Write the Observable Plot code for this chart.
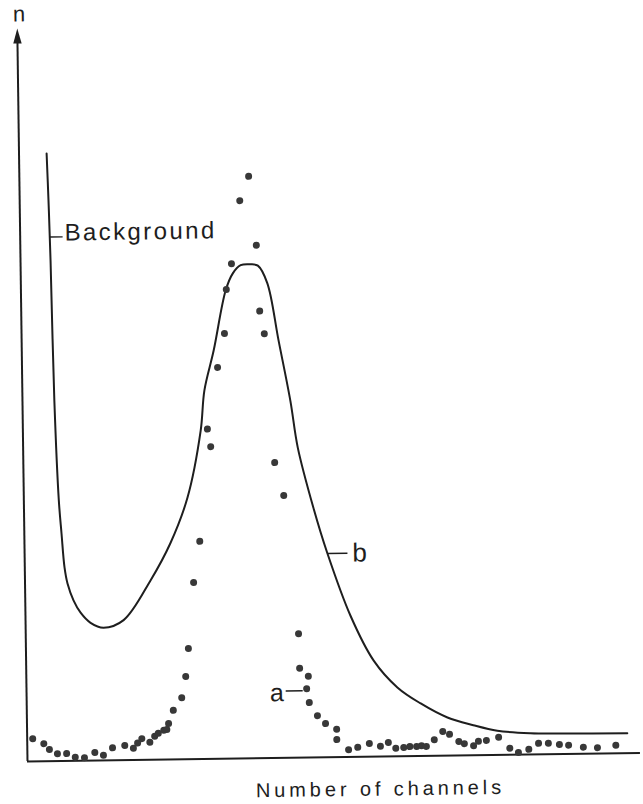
<!DOCTYPE html>
<html>
<head>
<meta charset="utf-8">
<script src="https://cdn.jsdelivr.net/npm/d3@7"></script>
<script src="https://cdn.jsdelivr.net/npm/@observablehq/plot@0.6"></script>
<style>
  html, body { margin: 0; padding: 0; background: #fff; }
  #chart { width: 643px; height: 804px; overflow: hidden; }
  /* the printed figure sits slightly askew on the page */
  #chart svg { display: block; transform: rotate(-0.8deg); transform-origin: 27px 761px; }
</style>
</head>
<body>
<div id="chart"></div>
<script>
// Measured spectrum (a): counts per channel
const dotChannel = [
  0.9, 2.7, 3.6, 4.9, 6.4, 7.8, 9.3, 11.0, 12.4, 13.9, 15.9, 17.3, 18.0, 18.7, 20.0,
  20.8, 21.4, 22.3, 22.8, 23.1, 23.9, 25.3, 26.0, 26.5, 27.5, 28.6, 30.1, 30.6, 31.9,
  33.1, 33.5, 34.4, 35.9, 37.4, 38.5, 38.9, 39.6, 41.0, 42.4, 44.5, 44.6, 46.0, 45.7,
  46.1, 47.4, 48.7, 50.5, 50.5, 52.4, 53.9, 55.8, 57.6, 58.9, 60.1, 61.4, 62.4, 63.5,
  64.3, 65.1, 66.4, 67.8, 68.9, 70.4, 71.3, 72.8, 73.6, 74.9, 76.9, 78.7, 80.1, 81.8,
  83.4, 85.0, 86.8, 88.3, 90.7, 93.0, 96.0
];
const dotCount = [
  3.1, 2.4, 1.6, 1.0, 1.0, 0.5, 0.4, 1.1, 0.7, 1.7, 2.0, 1.6, 2.3, 2.9, 2.4,
  3.2, 3.6, 4.0, 4.1, 4.9, 6.7, 8.4, 11.3, 15.1, 24.1, 29.7, 45.0, 42.6, 53.4,
  58.0, 64.0, 67.5, 76.1, 79.4, 70.0, 61.0, 57.9, 40.3, 35.8, 16.9, 12.2, 11.1, 9.4,
  7.5, 5.7, 4.6, 3.8, 2.4, 1.0, 1.3, 1.8, 1.4, 1.9, 1.1, 1.2, 1.3, 1.3,
  1.4, 1.3, 2.2, 3.3, 2.9, 1.9, 1.6, 1.3, 1.9, 2.0, 2.4, 0.9, 0.3, 0.7,
  1.5, 1.5, 1.3, 1.2, 0.9, 0.8, 1.1
];

// Spectrum with background (b)
const curveChannel = [
  4.5, 4.7, 4.9, 5.2, 5.7, 6.07, 6.48, 6.93, 7.87, 9.0, 10.6, 12.7, 16.0, 20.5, 23.8,
  26.7, 29.0, 29.7, 31.3, 33.4, 34.6, 35.9, 37.5, 38.7, 40.2, 41.9, 43.7, 44.8, 47.2,
  49.4, 53.0, 56.7, 60.5, 64.2, 68.6, 72.8, 76.7, 82.1, 87.5, 97.9
];
const curveCount = [
  82.9, 76.5, 68.3, 49.2, 35.6, 31.0, 26.4, 24.2, 21.9, 20.2, 18.8, 18.1, 19.1, 24.5, 29.5,
  35.7, 44.8, 50.3, 55.7, 63.9, 66.2, 67.3, 67.4, 67.2, 64.8, 57.0, 48.7, 42.3, 34.1,
  27.8, 19.3, 13.1, 9.4, 7.2, 5.2, 4.1, 3.3, 2.9, 2.8, 2.7
];

// Annotations and the data point each one refers to
const labelText = ["Background", "a", "b"];
const labelChannel = [4.8, 45.7, 49.4];
const labelCount = [71.5, 9.4, 27.8];

const xMax = 100, yMax = 100;

const dots = dotChannel.map((c, i) => ({channel: c, n: dotCount[i]}));
const curve = curveChannel.map((c, i) => ({channel: c, n: curveCount[i]}));
const labels = labelText.map((t, i) => ({text: t, channel: labelChannel[i], n: labelCount[i]}));

const ink = "#1e1e1e";
const font = "'Liberation Sans', Arial, Helvetica, sans-serif";

// short horizontal leader line drawn as a custom symbol (offsets in px)
const leader = (x0, x1, y) => ({draw(ctx) { ctx.moveTo(x0, y); ctx.lineTo(x1, y); }});
// slender filled arrowhead with its tip at the anchor point
const arrowHead = {draw(ctx) { ctx.moveTo(0, 0); ctx.lineTo(4.2, 15); ctx.lineTo(-4.2, 15); ctx.closePath(); }};

const labelStyle = {
  Background: {symbol: leader(0, 13, 0), dx: 15, dy: -4, anchor: "start", size: 24},
  a: {symbol: leader(-21, -4, 2), dx: -23, dy: 4, anchor: "end", size: 25},
  b: {symbol: leader(0, 20, 0), dx: 25, dy: 0, anchor: "start", size: 26}
};

const labelMarks = labels.flatMap(d => {
  const s = labelStyle[d.text];
  return [
    Plot.dot([d], {x: "channel", y: "n", symbol: s.symbol, r: 1, fill: "none", stroke: ink, strokeWidth: 1.4}),
    Plot.text([d], {x: "channel", y: "n", text: "text", dx: s.dx, dy: s.dy, textAnchor: s.anchor,
      fontSize: s.size, fill: ink})
  ];
});

const chart = Plot.plot({
  width: 643,
  height: 804,
  marginTop: 28,
  marginBottom: 43,
  marginLeft: 27,
  marginRight: 3,
  x: {domain: [0, xMax], axis: null},
  y: {domain: [0, yMax], axis: null},
  style: {fontFamily: font, background: "#fff", overflow: "visible"},
  marks: [
    // axes
    Plot.ruleY([0], {stroke: ink, strokeWidth: 2}),
    Plot.ruleX([{x: 0, y1: 0, y2: yMax - 2}], {x: "x", y1: "y1", y2: "y2", stroke: ink, strokeWidth: 2}),
    Plot.dot([{x: 0, y: yMax}], {x: "x", y: "y", symbol: arrowHead, r: 1, fill: ink, stroke: "none"}),
    // curve b
    Plot.line(curve, {x: "channel", y: "n", curve: "catmull-rom", stroke: ink, strokeWidth: 2}),
    // spectrum a
    Plot.dot(dots, {x: "channel", y: "n", r: 3.5, fill: "#383838", stroke: "none"}),
    ...labelMarks,
    // axis titles
    Plot.text(["n"], {text: d => d, frameAnchor: "top-left", dx: 2, dy: -7, lineAnchor: "bottom",
      textAnchor: "middle", fontSize: 22, fill: ink}),
    Plot.text(["Number of channels"], {text: d => d, frameAnchor: "bottom", dx: 46, dy: 39,
      lineAnchor: "bottom", textAnchor: "middle", fontSize: 20, fill: ink})
  ]
});

d3.select(chart).selectAll("text").each(function() {
  const t = this.textContent;
  if (t === "Number of channels") this.setAttribute("letter-spacing", "3.9px");
  else if (t === "Background") this.setAttribute("letter-spacing", "2.4px");
});

document.getElementById("chart").appendChild(chart);
</script>
</body>
</html>
